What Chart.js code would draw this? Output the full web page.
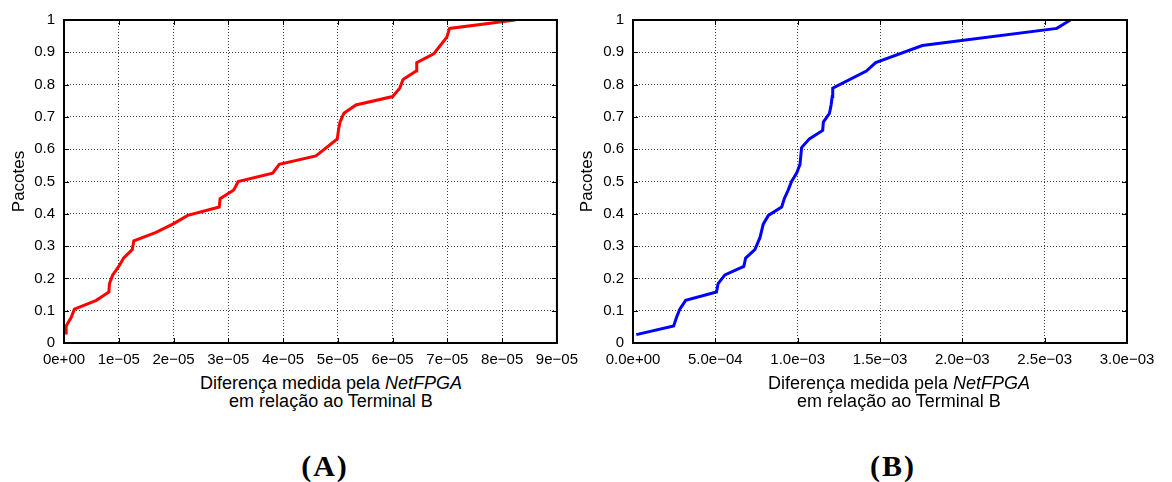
<!DOCTYPE html>
<html>
<head>
<meta charset="utf-8">
<script src="https://cdn.jsdelivr.net/npm/chart.js@4/dist/chart.umd.min.js"></script>
<style>
  body { margin: 0; background: #fff; width: 1172px; height: 482px; position: relative; overflow: hidden; }
  canvas { position: absolute; top: 0; }
  .xt { position: absolute; width: 400px; text-align: center; font: 18px "Liberation Sans", Arial, sans-serif; line-height: 18px; color: #000; }
  .cap { position: absolute; width: 100px; text-align: center; font: bold 30px "Liberation Serif", serif; line-height: 30px; letter-spacing: 2px; color: #000; }
</style>
</head>
<body>
<canvas id="chartA" style="left:0px"></canvas>
<canvas id="chartB" style="left:570px"></canvas>
<div class="xt" style="left:131px; top:374px">Diferença medida pela <i>NetFPGA</i><br>em relação ao Terminal B</div>
<div class="xt" style="left:699px; top:374px">Diferença medida pela <i>NetFPGA</i><br>em relação ao Terminal B</div>
<div class="cap" style="left:275px; top:451px">(A)</div>
<div class="cap" style="left:843px; top:451px">(B)</div>
<script>
// (A) diferença em segundos, fração acumulada de pacotes
var xA = [0.04e-5, 0.04e-5, 0.13e-5, 0.19e-5, 0.59e-5, 0.82e-5, 0.83e-5, 0.89e-5, 1.0e-5, 1.09e-5,
  1.245e-5, 1.275e-5, 1.67e-5, 1.985e-5, 2.26e-5, 2.835e-5, 2.85e-5, 3.10e-5, 3.18e-5, 3.81e-5,
  3.93e-5, 4.60e-5, 4.99e-5, 5.01e-5, 5.04e-5, 5.11e-5, 5.33e-5, 6.0e-5, 6.13e-5, 6.19e-5,
  6.43e-5, 6.44e-5, 6.75e-5, 6.87e-5, 6.99e-5, 7.04e-5, 8.24e-5];
var yA = [0.026, 0.053, 0.079, 0.105, 0.132, 0.158, 0.184, 0.211, 0.237, 0.263,
  0.289, 0.316, 0.342, 0.368, 0.395, 0.421, 0.447, 0.474, 0.5, 0.526,
  0.553, 0.579, 0.632, 0.658, 0.684, 0.711, 0.737, 0.763, 0.789, 0.816,
  0.842, 0.868, 0.895, 0.921, 0.947, 0.974, 1.0];

// (B)
var xB = [0.02e-3, 0.247e-3, 0.264e-3, 0.284e-3, 0.32e-3, 0.507e-3, 0.517e-3, 0.558e-3, 0.673e-3, 0.684e-3,
  0.74e-3, 0.771e-3, 0.791e-3, 0.822e-3, 0.903e-3, 0.919e-3, 0.943e-3, 0.963e-3, 0.994e-3, 1.014e-3,
  1.024e-3, 1.071e-3, 1.152e-3, 1.156e-3, 1.193e-3, 1.203e-3, 1.21e-3, 1.213e-3, 1.417e-3, 1.474e-3,
  1.757e-3, 2.574e-3, 2.656e-3];
var yB = [0.026, 0.053, 0.079, 0.105, 0.132, 0.158, 0.184, 0.211, 0.237, 0.263,
  0.289, 0.326, 0.368, 0.395, 0.421, 0.447, 0.474, 0.5, 0.526, 0.553,
  0.605, 0.632, 0.658, 0.684, 0.711, 0.737, 0.763, 0.789, 0.842, 0.868,
  0.921, 0.974, 1.0];

var xTickValsA = [0, 1e-5, 2e-5, 3e-5, 4e-5, 5e-5, 6e-5, 7e-5, 8e-5, 9e-5];
var xTickLabelsA = ["0e+00", "1e\u221205", "2e\u221205", "3e\u221205", "4e\u221205", "5e\u221205",
  "6e\u221205", "7e\u221205", "8e\u221205", "9e\u221205"];
var xTickValsB = [0, 5e-4, 1e-3, 1.5e-3, 2e-3, 2.5e-3, 3e-3];
var xTickLabelsB = ["0.0e+00", "5.0e\u221204", "1.0e\u221203", "1.5e\u221203", "2.0e\u221203",
  "2.5e\u221203", "3.0e\u221203"];
var yTickVals = [0, 0.1, 0.2, 0.3, 0.4, 0.5, 0.6, 0.7, 0.8, 0.9, 1];
var yTickLabels = ["0", "0.1", "0.2", "0.3", "0.4", "0.5", "0.6", "0.7", "0.8", "0.9", "1"];

var tickFont = { family: "Liberation Sans, Arial, sans-serif", size: 15 };

// moldura e marcas de escala estilo gnuplot
var framePlugin = {
  id: "frame",
  afterDraw: function (chart) {
    var a = chart.chartArea, c = chart.ctx;
    c.save();
    c.strokeStyle = "#000";
    c.lineWidth = 1;
    var xs = chart.scales.x, ys = chart.scales.y;
    c.beginPath();
    xs.ticks.forEach(function (t) {
      var px = Math.round(xs.getPixelForValue(t.value)) + 0.5;
      c.moveTo(px, a.bottom); c.lineTo(px, a.bottom - 5);
      c.moveTo(px, a.top); c.lineTo(px, a.top + 5);
    });
    ys.ticks.forEach(function (t) {
      var py = Math.round(ys.getPixelForValue(t.value)) + 0.5;
      c.moveTo(a.left, py); c.lineTo(a.left + 5, py);
      c.moveTo(a.right, py); c.lineTo(a.right - 5, py);
    });
    c.stroke();
    c.lineWidth = 2;
    c.strokeRect(a.left, a.top, a.right - a.left, a.bottom - a.top);
    c.restore();
  }
};

function makeChart(id, w, xs, ys, color, xMax, tickVals, tickLabels, yWidth, rightPad, titlePad) {
  var canvas = document.getElementById(id);
  canvas.style.width = w + "px";
  canvas.style.height = "370px";
  var pts = xs.map(function (v, i) { return { x: v, y: ys[i] }; });
  return new Chart(canvas.getContext("2d"), {
    type: "line",
    data: {
      datasets: [{
        data: pts,
        borderColor: color,
        borderWidth: 3,
        pointRadius: 0,
        tension: 0,
        fill: false
      }]
    },
    options: {
      responsive: false,
      animation: false,
      layout: { padding: { top: 20, right: rightPad, bottom: 0, left: 0 } },
      plugins: { legend: { display: false }, tooltip: { enabled: false } },
      scales: {
        x: {
          type: "linear",
          min: 0,
          max: xMax,
          afterBuildTicks: function (s) { s.ticks = tickVals.map(function (v) { return { value: v }; }); },
          afterFit: function (s) { s.height = 27; },
          ticks: {
            color: "#000",
            font: tickFont,
            padding: 8,
            maxRotation: 0,
            autoSkip: false,
            callback: function (v, i) { return tickLabels[i]; }
          },
          grid: { color: "rgba(0,0,0,0.75)", drawTicks: false, lineWidth: 1 },
          border: { display: false, dash: [1, 2] }
        },
        y: {
          min: 0,
          max: 1,
          afterBuildTicks: function (s) { s.ticks = yTickVals.map(function (v) { return { value: v }; }); },
          afterFit: function (s) { s.width = yWidth; },
          ticks: {
            color: "#000",
            font: tickFont,
            padding: 9,
            autoSkip: false,
            callback: function (v, i) { return yTickLabels[i]; }
          },
          title: {
            display: true,
            text: "Pacotes",
            color: "#000",
            font: { family: "Liberation Sans, Arial, sans-serif", size: 17 },
            padding: { top: titlePad, bottom: 0 }
          },
          grid: { color: "rgba(0,0,0,0.75)", drawTicks: false, lineWidth: 1 },
          border: { display: false, dash: [1, 2] }
        }
      }
    },
    plugins: [framePlugin]
  });
}

makeChart("chartA", 586, xA, yA, "#ff0000", 9e-5, xTickValsA, xTickLabelsA, 64, 28, 9);
makeChart("chartB", 602, xB, yB, "#0000ff", 3e-3, xTickValsB, xTickLabelsB, 63, 45, 7);
</script>
</body>
</html>
